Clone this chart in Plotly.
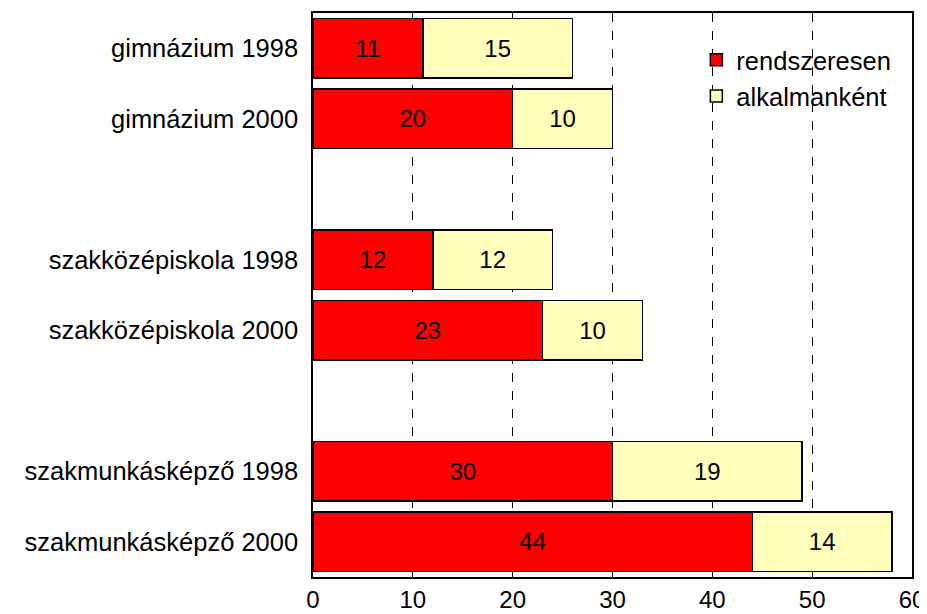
import plotly.graph_objects as go

categories = ["gimnázium 1998", "gimnázium 2000", " ",
              "szakközépiskola 1998", "szakközépiskola 2000", "  ",
              "szakmunkásképző 1998", "szakmunkásképző 2000"]
rendszeresen = [11, 20, None, 12, 23, None, 30, 44]
alkalmankent = [15, 10, None, 12, 10, None, 19, 14]
x_ticks = [0, 10, 20, 30, 40, 50, 60]

font = "Liberation Sans, Arial, sans-serif"
FS_CAT = 25.5
FS_NUM = 24

fig = go.Figure()
fig.add_trace(go.Bar(
    y=categories, x=rendszeresen, orientation="h", name="rendszeresen",
    marker=dict(color="#FF0000", line=dict(color="black", width=1.5)),
    text=rendszeresen, textposition="inside", insidetextanchor="middle",
    textfont=dict(size=FS_NUM, color="black", family=font),
))
fig.add_trace(go.Bar(
    y=categories, x=alkalmankent, orientation="h", name="alkalmanként",
    marker=dict(color="#FFFFBB", line=dict(color="black", width=1.5)),
    text=alkalmankent, textposition="inside", insidetextanchor="middle",
    textfont=dict(size=FS_NUM, color="black", family=font),
))

fig.update_layout(
    barmode="stack", bargap=0.15,
    width=919, height=606,
    margin=dict(l=305, r=15, t=5, b=37),
    paper_bgcolor="white", plot_bgcolor="white",
    font=dict(family=font, size=FS_CAT, color="black"),
    uniformtext=dict(mode="show", minsize=FS_NUM),
    legend=dict(x=0.64, y=0.958, xanchor="left", yanchor="top",
                traceorder="normal",
                bgcolor="rgba(0,0,0,0)", font=dict(size=FS_CAT),
                itemwidth=30, tracegroupgap=0),
    xaxis=dict(range=[0, 60], tickvals=x_ticks, showgrid=True,
               gridcolor="black", griddash="dash", gridwidth=1,
               showline=True, linecolor="black", linewidth=1.5, mirror=True,
               ticks="inside", ticklen=6, tickcolor="black",
               tickfont=dict(size=FS_NUM), zeroline=False, ticklabelstandoff=0,
               automargin=False),
    yaxis=dict(autorange="reversed", showline=True, linecolor="black",
               linewidth=1.5, mirror=True, ticks="", tickfont=dict(size=FS_CAT),
               ticklabelstandoff=8, automargin=False),
)

fig.write_html("out.html")
